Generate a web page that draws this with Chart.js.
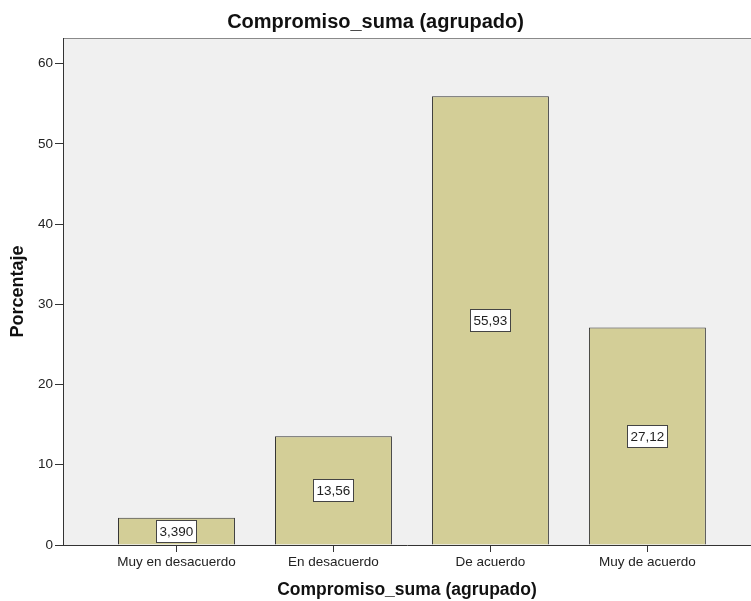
<!DOCTYPE html>
<html>
<head>
<meta charset="utf-8">
<script src="https://cdn.jsdelivr.net/npm/chart.js@4.4.1/dist/chart.umd.min.js"></script>
<style>
    body { margin: 0; background: #ffffff; }
    canvas { display: block; }
</style>
</head>
<body>
<canvas id="chart" width="751" height="601"></canvas>
<script>
const categories = ['Muy en desacuerdo', 'En desacuerdo', 'De acuerdo', 'Muy de acuerdo'];
const percentages = [3.390, 13.56, 55.93, 27.12];
const yTicks = [0, 10, 20, 30, 40, 50, 60];

const FONT = "'Liberation Sans', Arial, sans-serif";

function formatValue(v) {
    return v.toPrecision(4).replace('.', ',');
}

// gray plot background with a thin top border
const plotBackground = {
    id: 'plotBackground',
    beforeDraw(chart) {
        const a = chart.chartArea;
        const ctx = chart.ctx;
        ctx.save();
        ctx.fillStyle = '#f0f0f0';
        ctx.fillRect(a.left, a.top, a.right - a.left, a.bottom - a.top);
        ctx.strokeStyle = '#8a8a8a';
        ctx.lineWidth = 1;
        ctx.beginPath();
        ctx.moveTo(a.left, a.top + 0.5);
        ctx.lineTo(a.right, a.top + 0.5);
        ctx.stroke();
        ctx.restore();
    }
};

// boxed value labels in the middle of each bar
const boxLabels = {
    id: 'boxLabels',
    afterDatasetsDraw(chart) {
        const ctx = chart.ctx;
        const meta = chart.getDatasetMeta(0);
        ctx.save();
        ctx.font = '13.5px ' + FONT;
        ctx.textAlign = 'center';
        ctx.textBaseline = 'middle';
        meta.data.forEach(function(bar, i) {
            const text = formatValue(percentages[i]);
            const w = Math.round(ctx.measureText(text).width + 6);
            const h = 22;
            let cy = (bar.y + bar.base) / 2;
            cy = Math.min(cy, bar.base - h / 2 - 1);
            const x0 = Math.round(bar.x - w / 2) + 0.5;
            const y0 = Math.round(cy - h / 2) + 0.5;
            ctx.fillStyle = '#ffffff';
            ctx.fillRect(x0, y0, w, h);
            ctx.strokeStyle = '#444444';
            ctx.lineWidth = 1;
            ctx.strokeRect(x0, y0, w, h);
            ctx.fillStyle = '#222222';
            ctx.fillText(text, bar.x, cy + 1);
        });
        ctx.restore();
    }
};

const ctx = document.getElementById('chart').getContext('2d');
new Chart(ctx, {
    type: 'bar',
    data: {
        datasets: [{
            data: percentages.map(function(v, i) { return { x: i, y: v }; }),
            backgroundColor: '#d3ce97',
            borderColor: '#333333',
            borderWidth: 1,
            barPercentage: 0.745,
            categoryPercentage: 1
        }]
    },
    options: {
        responsive: false,
        animation: false,
        layout: { padding: { left: 0, right: 0, top: 0, bottom: 0 } },
        plugins: {
            legend: { display: false },
            tooltip: { enabled: false },
            title: {
                display: true,
                text: 'Compromiso_suma (agrupado)',
                color: '#111111',
                font: { family: FONT, size: 20, weight: 'bold', lineHeight: 1.2 },
                padding: { top: 10, bottom: 4 }
            }
        },
        scales: {
            x: {
                type: 'linear',
                min: -0.723,
                max: 3.66,
                offset: false,
                grid: {
                    offset: false,
                    drawOnChartArea: false,
                    drawTicks: true,
                    tickLength: 7,
                    color: '#333333'
                },
                border: { display: true, color: '#333333', width: 1 },
                ticks: {
                    stepSize: 1,
                    includeBounds: false,
                    autoSkip: false,
                    maxRotation: 0,
                    padding: 2,
                    color: '#222222',
                    font: { family: FONT, size: 13.5 },
                    callback: function(value) {
                        return Number.isInteger(value) && categories[value] !== undefined ? categories[value] : '';
                    }
                },
                title: {
                    display: true,
                    text: 'Compromiso_suma (agrupado)',
                    color: '#111111',
                    font: { family: FONT, size: 17.5, weight: 'bold', lineHeight: 1.2 },
                    padding: { top: 0, bottom: 0 }
                },
                afterFit: function(scale) { scale.height = 56; }
            },
            y: {
                min: 0,
                max: 63.2,
                afterBuildTicks: function(scale) {
                    scale.ticks = yTicks.map(function(v) { return { value: v }; });
                },
                grid: {
                    drawOnChartArea: false,
                    drawTicks: true,
                    tickLength: 8,
                    color: '#333333'
                },
                border: { display: true, color: '#333333', width: 1 },
                ticks: {
                    padding: 2,
                    color: '#222222',
                    font: { family: FONT, size: 13.5 }
                },
                title: {
                    display: true,
                    text: 'Porcentaje',
                    color: '#111111',
                    font: { family: FONT, size: 18, weight: 'bold', lineHeight: 1.2 },
                    padding: { top: 7, bottom: 0 }
                },
                afterFit: function(scale) { scale.width = 63; }
            }
        }
    },
    plugins: [plotBackground, boxLabels]
});
</script>
</body>
</html>
